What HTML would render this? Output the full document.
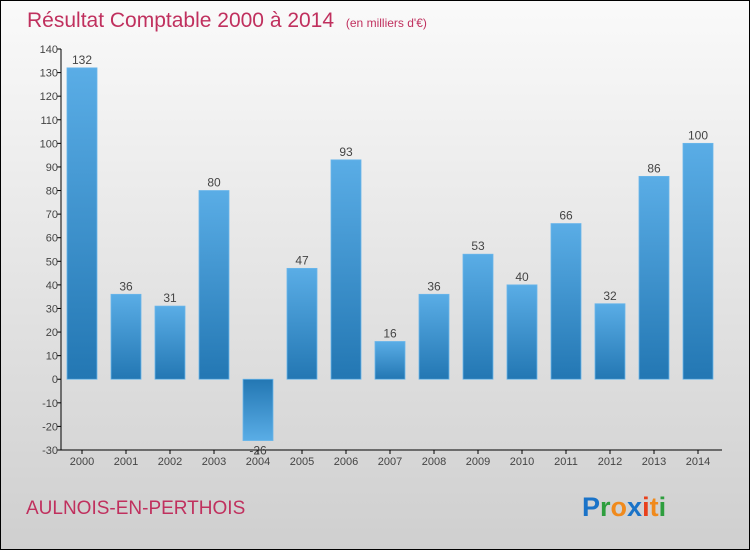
<!DOCTYPE html>
<html><head><meta charset="utf-8"><style>
html,body{margin:0;padding:0}
body{width:750px;height:550px;overflow:hidden;font-family:"Liberation Sans","DejaVu Sans",sans-serif}
</style></head><body>
<svg id="c" width="750" height="550" xmlns="http://www.w3.org/2000/svg">
<defs>
<linearGradient id="bg" x1="0" y1="0" x2="0" y2="1"><stop offset="0" stop-color="#fafafa"/><stop offset="1" stop-color="#cfcfcf"/></linearGradient>
<linearGradient id="bp" x1="0" y1="0" x2="0" y2="1"><stop offset="0" stop-color="#5aade6"/><stop offset="1" stop-color="#2377b3"/></linearGradient>
<linearGradient id="bn" x1="0" y1="0" x2="0" y2="1"><stop offset="0" stop-color="#2377b3"/><stop offset="1" stop-color="#5aade6"/></linearGradient>
</defs>
<rect x="0.5" y="0.5" width="749" height="549" fill="url(#bg)" stroke="#000"/>
<text x="27" y="27" font-size="21" fill="#c0305e">Résultat Comptable 2000 à 2014 <tspan font-size="12" dx="6">(en milliers d'€)</tspan></text>
<text x="26" y="514" font-size="19" fill="#c0305e">AULNOIS-EN-PERTHOIS</text>
<g id="logo" font-size="27" font-weight="bold">
<text x="582" y="516"><tspan fill="#1a73c8">P</tspan><tspan fill="#2e9e3e">r</tspan><tspan fill="#f08a1c">o</tspan><tspan fill="#1a73c8">x</tspan><tspan fill="#e8401c">i</tspan><tspan fill="#f08a1c">t</tspan><tspan fill="#2e9e3e">i</tspan></text>
</g>
<g id="plot"></g>
</svg>
<script>
const categories=["2000","2001","2002","2003","2004","2005","2006","2007","2008","2009","2010","2011","2012","2013","2014"];
const values=[132,36,31,80,-26,47,93,16,36,53,40,66,32,86,100];
const yTicks=[140,130,120,110,100,90,80,70,60,50,40,30,20,10,0,-10,-20,-30];
const NS="http://www.w3.org/2000/svg";
const g=document.getElementById('plot');
const yMin=-30,yMax=140,yTop=49,yBot=450,x0=61;
function y(v){return yBot-(v-yMin)/(yMax-yMin)*(yBot-yTop);}
function x(i){return 82+i*44;}
function mk(t,a,txt){const e=document.createElementNS(NS,t);for(const k in a)e.setAttribute(k,a[k]);if(txt!==undefined)e.textContent=txt;g.appendChild(e);return e;}
let e=mk('line',{x1:x0,y1:yTop,x2:x0,y2:yBot,stroke:'#000'});


e=mk('line',{x1:x0,y1:yBot,x2:722,y2:yBot,stroke:'#000'});


yTicks.forEach(v=>{
  let t=mk('line',{x1:x0-4,y1:y(v),x2:x0,y2:y(v),stroke:'#000'});
  
  
  let l=mk('text',{x:x0-3,y:y(v)+4,'font-size':11,fill:'#444','text-anchor':'end'},String(v));
  
  
});
categories.forEach((c,i)=>{
  const v=values[i];
  const top=Math.min(y(v),y(0)),h=Math.abs(y(v)-y(0));
  let b=mk('rect',{x:x(i)-15,y:top,width:30,height:h,fill:v>=0?'url(#bp)':'url(#bn)',stroke:'#6ab6ea','stroke-width':0.8});
  
  
  let vl=mk('text',{x:x(i),y:v>=0?y(v)-4:y(v)+14,'font-size':12,fill:'#444','text-anchor':'middle'},String(v));
  
  
  let t=mk('line',{x1:x(i),y1:yBot,x2:x(i),y2:yBot+4,stroke:'#000'});
  
  
  let l=mk('text',{x:x(i),y:yBot+15,'font-size':11,fill:'#444','text-anchor':'middle'},c);
  
  
});
</script>
</body></html>
